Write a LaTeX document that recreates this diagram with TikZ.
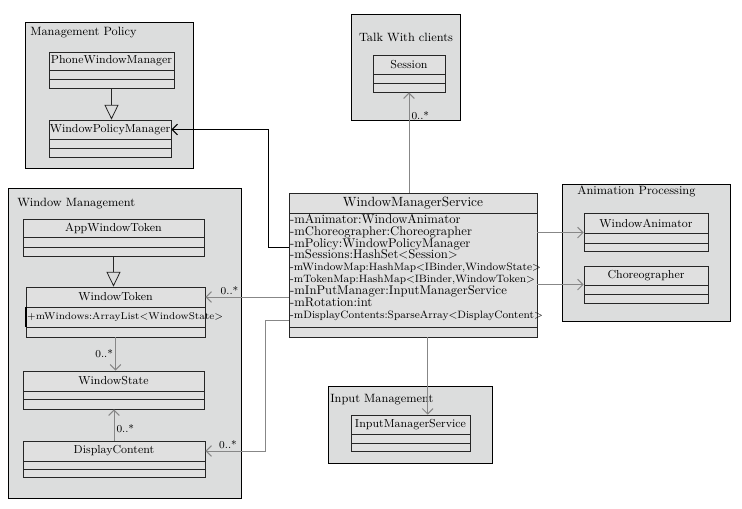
\documentclass[tikz,border=0pt]{standalone}
\usepackage{tikz}
\usetikzlibrary{fit, positioning, arrows.meta}
\usepackage{xcolor}

\definecolor{pkggray}{RGB}{220,221,221}
\definecolor{clsgray}{RGB}{224,224,224}
\definecolor{linegray}{RGB}{135,135,135}
\newcommand{\narrowattr}{\fontsize{8}{8.9}\selectfont}

\begin{document}
\begin{tikzpicture}[x=0.75pt, y=-0.75pt,
            pkg/.style={draw=black, fill=pkggray, inner sep=0pt, line width=0.6pt},
            pkgtitle/.style={font=\fontsize{9}{10}\selectfont, inner sep=0pt, anchor=west},
            cls/.style={draw=black!85, fill=clsgray, inner sep=0pt, line width=0.6pt},
            clsname/.style={label={[font=\fontsize{8.7}{10}\selectfont, inner sep=0pt]center:#1}},
            assoc/.style={draw=linegray, line width=0.75pt,
                -{Straight Barb[length=4pt, width=8pt]}},
            inherit/.style={draw=black!85, line width=0.6pt,
                -{Triangle[open, length=11pt, width=10.5pt]}},
            mult/.style={font=\fontsize{8}{9}\selectfont, inner sep=1.5pt}]

        \useasboundingbox (0,0) rectangle (742,508);

        % --- Management Policy ---
        \node[pkg, fit={(25,22)(193,168)}] (mp) {};
        \node[pkgtitle] (mp-t) at (30,33) {Management Policy};
        \node[cls, fit={(49,52)(174,70)}, clsname=PhoneWindowManager] (pwm) {};
        \node[cls, fit={(49,70)(174,79)}]   (pwm-a) {};
        \node[cls, fit={(49,79)(174,88)}]   (pwm-o) {};
        \node[cls, fit={(49,120)(171,139)}, clsname=WindowPolicyManager] (wpm) {};
        \node[cls, fit={(49,139)(171,148)}] (wpm-a) {};
        \node[cls, fit={(49,148)(171,157)}] (wpm-o) {};

        % --- Talk With clients ---
        \node[pkg, fit={(351,14)(460,120)}] (twc) {};
        \node[pkgtitle, anchor=center] (twc-t) at (406,37) {Talk With clients};
        \node[cls, fit={(373,55)(445,74)}, clsname=Session] (ses) {};
        \node[cls, fit={(373,74)(445,83)}] (ses-a) {};
        \node[cls, fit={(373,83)(445,92)}] (ses-o) {};

        % --- Window Management ---
        \node[pkg, fit={(8,188)(241,498)}] (wm) {};
        \node[pkgtitle] (wm-t) at (17,204) {Window Management};
        \node[cls, fit={(23,219)(204,237)}, clsname=AppWindowToken] (awt) {};
        \node[cls, fit={(23,237)(204,247)}] (awt-a) {};
        \node[cls, fit={(23,247)(204,256)}] (awt-o) {};
        \node[cls, fit={(26,287)(205,307)}, clsname=WindowToken] (wt) {};
        \node[cls, fit={(26,307)(205,327)}] (wt-a) {};
        \node[anchor=west, inner sep=1pt, font=\fontsize{7.4}{8}\selectfont] (wt-t)
            at (wt-a.west) {+mWindows:ArrayList<WindowState>};
        \draw[line width=1.4pt] (wt-a.north west) -- (wt-a.south west);
        \node[cls, fit={(26,327)(205,337)}] (wt-o) {};
        \node[cls, fit={(23,371)(204,391)}, clsname=WindowState] (ws) {};
        \node[cls, fit={(23,391)(204,399)}] (ws-a) {};
        \node[cls, fit={(23,399)(204,409)}] (ws-o) {};
        \node[cls, fit={(23,441)(205,461)}, clsname=DisplayContent] (dc) {};
        \node[cls, fit={(23,461)(205,469)}] (dc-a) {};
        \node[cls, fit={(23,469)(205,477)}] (dc-o) {};

        % --- Animation Processing ---
        \node[pkg, fit={(562,184)(730,321)}] (ap) {};
        \node[pkgtitle] (ap-t) at (577,191) {Animation Processing};
        \node[cls, fit={(584,213)(708,233)}, clsname=WindowAnimator] (wa) {};
        \node[cls, fit={(584,233)(708,243)}] (wa-a) {};
        \node[cls, fit={(584,243)(708,251)}] (wa-o) {};
        \node[cls, fit={(584,266)(708,285)}, clsname=Choreographer] (ch) {};
        \node[cls, fit={(584,285)(708,294)}] (ch-a) {};
        \node[cls, fit={(584,294)(708,303)}] (ch-o) {};

        % --- Input Management ---
        \node[pkg, fit={(328,386)(492,463)}] (im) {};
        \node[pkgtitle] (im-t) at (330,400) {Input Management};
        \node[cls, fit={(351,415)(470,434)}, clsname=InputManagerService] (ims) {};
        \node[cls, fit={(351,434)(470,443)}] (ims-a) {};
        \node[cls, fit={(351,443)(470,451)}] (ims-o) {};

        % --- WindowManagerService ---
        \node[cls, fit={(289,193)(537,213)},
            label={[font=\fontsize{10}{12}\selectfont, inner sep=0pt]center:WindowManagerService}] (wms) {};
        \node[cls, fit={(289,213)(537,327)}] (wms-a) {};
        \node[cls, fit={(289,327)(537,337)}] (wms-o) {};
        \node[anchor=north west, inner sep=1pt, align=left,
            font=\fontsize{9.5}{8.9}\selectfont] (wms-t) at (wms-a.north west) {
            -mAnimator:WindowAnimator\\
            -mChoreographer:Choreographer\\
            -mPolicy:WindowPolicyManager\\
            -mSessions:HashSet<Session>\\
            {\narrowattr -mWindowMap:HashMap<IBinder,WindowState>}\\
            {\narrowattr -mTokenMap:HashMap<IBinder,WindowToken>}\\
            -mInPutManager:InputManagerService\\
            -mRotation:int\\
            {\narrowattr -mDisplayContents:SparseArray<DisplayContent>}
        };

        % --- Relations ---
        \draw[inherit] (pwm-o.south) -- (pwm-o.south |- wpm.north);
        \draw[inherit] (awt-o.south) -- (awt-o.south |- wt.north);
        \draw[assoc] (wt-o.south) -- node[mult, left] {0..*} (wt-o.south |- ws.north);
        \draw[assoc] (dc.north) -- node[mult, right, pos=0.4] {0..*} (dc.north |- ws-o.south);

        \draw[assoc] (wms.north -| ses-o.south) -- node[mult, right, pos=0.77] {0..*} (ses-o.south);
        \coordinate (polbend) at (268,247);
        \draw[assoc, draw=black] (wms-a.west |- polbend) -- (polbend) |- (wpm.east);
        \draw[assoc] (wms-a.east |- wa-a.north west) -- (wa-a.north west);
        \draw[assoc] (wms-a.east |- ch-a.north west) -- (ch-a.north west);
        \draw[assoc] (wms-a.west |- wt.east) -- node[mult, above, pos=0.71] {0..*} (wt.east);
        \coordinate (dcbend) at (265,320);
        \draw[assoc] (wms-a.west |- dcbend) -- (dcbend) |- node[mult, above, pos=0.81] {0..*} (dc.east);
        \draw[assoc] ([xshift=11pt]wms-o.south) -- ([xshift=11pt]wms-o.south |- ims.north);

    \end{tikzpicture}
\end{document}
